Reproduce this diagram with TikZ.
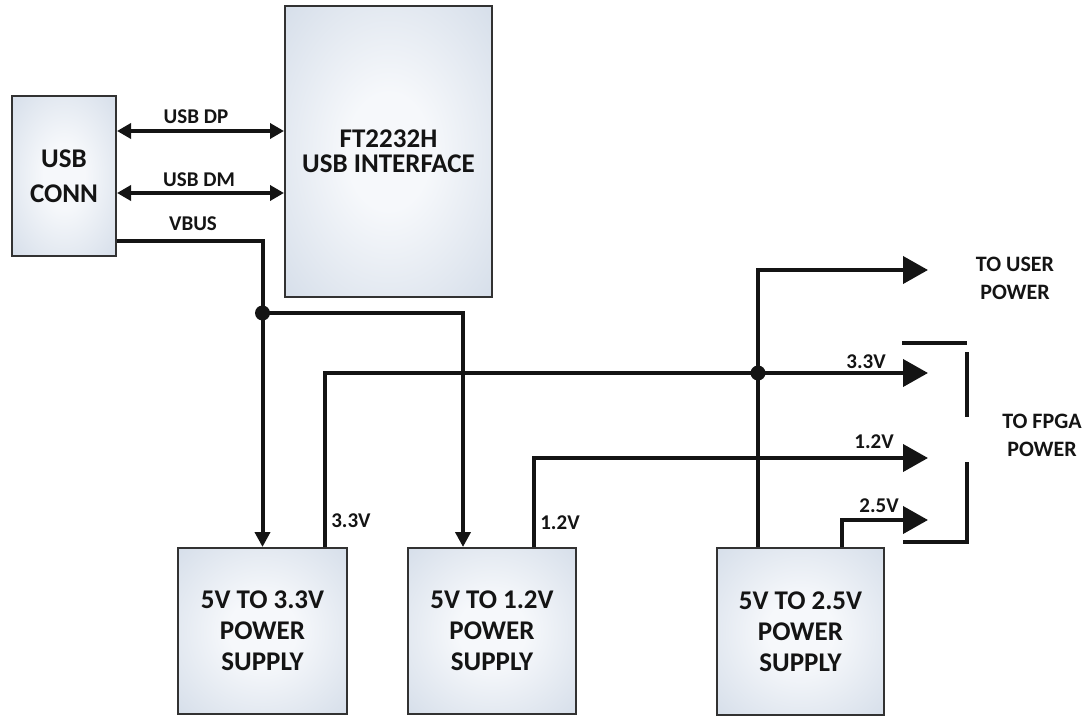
\documentclass[tikz,border=0pt]{standalone}
\usepackage{fontspec}
\setmainfont{Carlito}
\usepackage{tikz}
\usetikzlibrary{arrows.meta, positioning}
\definecolor{boxin}{RGB}{246,248,251}
\definecolor{boxout}{RGB}{196,208,224}
\definecolor{boxline}{RGB}{50,50,50}
\definecolor{ink}{RGB}{20,20,20}
\pgfdeclareradialshading{boxshade}{\pgfpoint{0bp}{0bp}}{color(0bp)=(boxin); color(10bp)=(boxin); color(50bp)=(boxout); color(72bp)=(boxout)}
\tikzset{
  block/.style={draw=boxline, line width=1pt, shade, shading=boxshade, align=center,
    font=\fontsize{13.5}{15.5}\selectfont\bfseries, text=ink, inner sep=0pt},
  wire/.style={line width=2pt, ink},
  bus/.style={wire, {Triangle[length=7pt,width=7.5pt]}-{Triangle[length=7pt,width=7.5pt]}},
  feed/.style={wire, -{Triangle[length=7.5pt,width=7.5pt]}},
  rail/.style={wire, -{Triangle[length=12.5pt,width=13.5pt]}},
  sig/.style={font=\fontsize{10.5}{12}\selectfont\bfseries, text=ink, inner sep=0pt},
  dest/.style={font=\fontsize{11}{14}\selectfont\bfseries, text=ink, align=center, inner sep=0pt},
  dot/.style={circle, fill=ink, inner sep=0pt, minimum size=7.5pt}
}

\begin{document}
\begin{tikzpicture}[x=0.5pt, y=-0.5pt]
			\useasboundingbox (0,0) rectangle (1087,717);
			% Blocks:
			\node[block, minimum width=52pt, minimum height=80pt] (conn) at (64,176) {USB\\[2pt]CONN};
			\node[block, minimum width=103.5pt, minimum height=145.5pt] (ftdi) at (388.5,151.5) {FT2232H\\[-3pt]USB INTERFACE};
			\node[block, minimum width=84.5pt, minimum height=83pt] (ps33) at (262.5,631) {5V TO 3.3V\\POWER\\SUPPLY};
			\node[block, minimum width=84pt, minimum height=83pt] (ps12) at (492,631) {5V TO 1.2V\\POWER\\SUPPLY};
			\node[block, minimum width=83.5pt, minimum height=83.5pt] (ps25) at (800.5,631.5) {5V TO 2.5V\\POWER\\SUPPLY};
			% USB lines:
			\coordinate (dp) at ([yshift=22.5pt]conn.east);
			\coordinate (dm) at ([yshift=-8.5pt]conn.east);
			\coordinate (vb) at ([yshift=-32.5pt]conn.east);
			\draw[bus] (dp) -- (dp -| ftdi.west);
			\draw[bus] (dm) -- (dm -| ftdi.west);
			\node[sig] (ldp) at (196,117) {USB DP};
			\node[sig] (ldm) at (199,180) {USB DM};
			\node[sig] (lvb) at (193,224) {VBUS};
			% VBUS to supplies:
			\coordinate (split) at (ps33.north |- 0,313);
			\coordinate (in12) at ([xshift=-14.5pt]ps12.north);
			\draw[feed] (vb) -| (ps33.north);
			\draw[feed] (split) -| (in12);
			\node[dot] (j1) at (split) {};
			% Supply outputs:
			\coordinate (o33) at ([xshift=31.25pt]ps33.north);
			\coordinate (o12) at ([xshift=21pt]ps12.north);
			\coordinate (o25a) at ([xshift=-21.25pt]ps25.north);
			\coordinate (o25b) at ([xshift=20.75pt]ps25.north);
			\coordinate (user) at (928,270);
			\coordinate (f33) at (928,373);
			\coordinate (f12) at (928,458);
			\coordinate (f25) at (928,520);
			\draw[rail] (o33) |- (f33);
			\draw[rail] (o12) |- (f12);
			\draw[rail] (o25a) |- (user);
			\draw[rail] (o25b) |- (f25);
			\node[dot] (j2) at (o25a |- f33) {};
			\node[sig] (l33a) at (351,521) {3.3V};
			\node[sig] (l12a) at (560,523) {1.2V};
			\node[sig] (l33b) at (866,362) {3.3V};
			\node[sig] (l12b) at (874,442) {1.2V};
			\node[sig] (l25b) at (879,506) {2.5V};
			% Destinations:
			\node[dest] (usr) at (1015,278) {TO USER\\POWER};
			\node[dest] (fpga) at (1042,435) {TO FPGA\\POWER};
			\draw[wire] (902,343) -- (967,343);
			\draw[wire] (967,352) -- (967,417);
			\draw[wire] (967,462) -- (967,542) -- (903,542);
		\end{tikzpicture}
\end{document}
